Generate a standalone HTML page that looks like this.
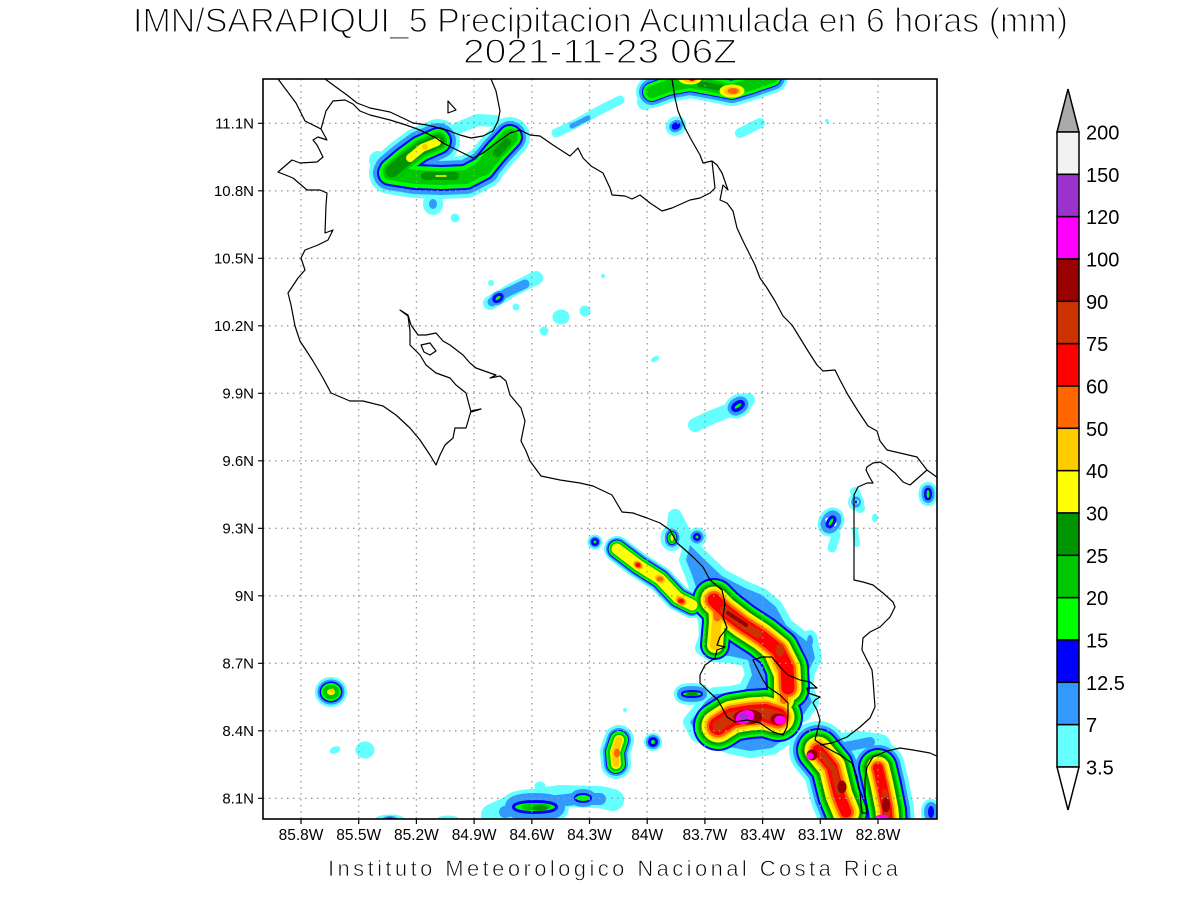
<!DOCTYPE html>
<html><head><meta charset="utf-8"><style>html,body{margin:0;padding:0;background:#fff;}svg{display:block;}</style></head>
<body>
<svg width="1200" height="900" viewBox="0 0 1200 900" xmlns="http://www.w3.org/2000/svg" xmlns:xlink="http://www.w3.org/1999/xlink" font-family="'Liberation Sans', sans-serif">
<rect width="1200" height="900" fill="#fff"/>
<defs>
<clipPath id="clip"><rect x="263" y="79" width="674" height="740"/></clipPath>
<path id="a1" fill="none" d="M392,171 L405,160 L420,149 L438,141"/>
<path id="a2" fill="none" d="M390,173 L415,177 L442,178 L466,177 L483,168"/>
<path id="a3" fill="none" d="M483,168 L496,152 L510,137"/>
<path id="b1" fill="none" d="M652,92 L668,86 L690,82 L712,86 L732,90 L752,84 L772,77"/>
<path id="c1" fill="none" d="M490,303 L512,290 L536,278"/>
<path id="e1" fill="none" d="M695,425 L712,417 L730,410 L748,400"/>
<path id="g2" fill="none" d="M617,549 L638,565 L660,579 L678,598 L692,605"/>
<path id="h1" fill="none" d="M714,600 L724,610 L742,624 L762,637 L778,650 L787,668 L788,688"/>
<path id="h1b" fill="none" d="M716,602 L717,622 L715,645"/>
<path id="h2" fill="none" d="M718,726 L732,717 L750,714 L765,713 L778,717"/>
<path id="h3" fill="none" d="M775,655 L784,675 L784,700"/>
<path id="h5" fill="none" d="M818,750 L832,767 L839,795 L846,812"/>
<path id="h6" fill="none" d="M878,768 L882,785 L887,810 L888,825"/>
<path id="i4" fill="none" d="M619,740 L615,752 L616,764"/>
<path id="hm" d="M690,545 L705,560 L722,576 L745,588 L762,595 L776,607 L786,625 L800,636 L812,645 L815,658 L808,672 L806,688 L812,702 L804,714 L790,722 L786,738 L772,748 L750,751 L730,747 L712,740 L697,735 L690,722 L698,712 L705,702 L715,694 L730,693 L745,690 L752,675 L748,660 L730,656 L712,655 L702,648 L706,636 L705,620 L700,605 L697,590 L692,575 L686,560 Z"/>
<ellipse id="a5" cx="433" cy="204" rx="3" ry="4"/>
<ellipse id="b3" cx="676" cy="126" rx="2.5" ry="1.5" transform="rotate(-30 676 126)"/>
<ellipse id="c2" cx="498" cy="298" rx="3" ry="1.5" transform="rotate(-35 498 298)"/>
<ellipse id="e2" cx="738" cy="406" rx="4" ry="1.5" transform="rotate(-35 738 406)"/>
<ellipse id="f1" cx="831" cy="522" rx="1.5" ry="4" transform="rotate(30 831 522)"/>
<ellipse id="f2" cx="856" cy="502" rx="1" ry="1.5"/>
<ellipse id="f3" cx="928" cy="494" rx="1.5" ry="4"/>
<circle id="g1" cx="595" cy="542" r="1.5"/>
<ellipse id="g4" cx="672" cy="538" rx="1.5" ry="3"/>
<circle id="g5" cx="697" cy="537" r="1.5"/>
<ellipse id="h4" cx="692" cy="694" rx="9" ry="2"/>
<ellipse id="hl" cx="810" cy="641" rx="3" ry="6"/>
<ellipse id="h7" cx="931" cy="812" rx="3" ry="6"/>
<ellipse id="i1" cx="331" cy="692" rx="4" ry="3"/>
<circle id="i5" cx="653" cy="742" r="2"/>
<ellipse id="i6" cx="535" cy="807" rx="20" ry="4"/>
<ellipse id="i7" cx="583" cy="798" rx="7" ry="3"/>
</defs>

<g clip-path="url(#clip)" stroke-linecap="round" stroke-linejoin="round">
<!-- cyan 3.5-7 -->
<g fill="#66ffff" stroke="#66ffff">
<use href="#a1" stroke-width="44"/><use href="#a2" stroke-width="42"/><use href="#a3" stroke-width="40"/>
<path fill="none" stroke-width="18" d="M378,160 L386,183"/>
<path fill="none" stroke-width="12" d="M458,128 L478,120 L495,121"/>
<use href="#a5" stroke-width="14"/>
<circle cx="455" cy="218" r="4"/>
<use href="#b1" stroke-width="32"/>
<path fill="none" stroke-width="16" d="M645,102 L658,88"/>
<use href="#b3" stroke-width="16"/>
<path fill="none" stroke-width="10" d="M740,133 L760,123"/>
<path fill="none" stroke-width="9" d="M556,133 L575,124 L600,110 L620,100"/>
<use href="#c1" stroke-width="14"/>
<circle cx="491" cy="283" r="2.5"/><circle cx="516" cy="307" r="3"/>
<ellipse cx="561" cy="317" rx="8" ry="7"/><circle cx="585" cy="311" r="5"/>
<circle cx="544" cy="331" r="4"/><circle cx="603" cy="276" r="1.5"/>
<ellipse cx="655" cy="359" rx="4" ry="2" transform="rotate(-30 655 359)"/>
<circle cx="827" cy="121" r="1.5"/>
<use href="#e1" stroke-width="14"/><use href="#e2" stroke-width="20"/>
<use href="#f1" stroke-width="22"/>
<path fill="none" stroke-width="9" d="M836,535 L832,548"/>
<use href="#f2" stroke-width="14"/>
<path fill="none" stroke-width="10" d="M855,492 L860,508"/>
<use href="#f3" stroke-width="16"/>
<ellipse cx="875" cy="518" rx="2.5" ry="4"/>
<path fill="none" stroke-width="6" d="M855,530 L857,544"/>
<use href="#g1" stroke-width="12"/><use href="#g2" stroke-width="26"/><use href="#g4" stroke-width="20"/>
<path fill="none" stroke-width="14" d="M675,516 L672,540"/>
<use href="#g5" stroke-width="16"/>
<path fill="none" stroke-width="16" d="M676,520 L690,548"/>
<use href="#hm" stroke-width="14"/>
<use href="#h4" stroke-width="18"/><use href="#hl" stroke-width="10"/>
<use href="#h5" stroke-width="58"/><use href="#h6" stroke-width="54"/>
<path fill="none" stroke-width="22" d="M800,735 L830,745 L860,742 L880,745"/>
<use href="#h7" stroke-width="14"/>
<use href="#i1" stroke-width="24"/>
<ellipse cx="335" cy="750" rx="5" ry="3" transform="rotate(-20 335 750)"/>
<ellipse cx="365" cy="750" rx="9" ry="8"/>
<use href="#i4" stroke-width="30"/><use href="#i5" stroke-width="14"/><use href="#i6" stroke-width="28"/>
<path fill="none" stroke-width="22" d="M492,815 L520,802 L560,796 L600,797 L613,800"/>
<ellipse cx="540" cy="786" rx="5" ry="4"/>
<ellipse cx="390" cy="819" rx="14" ry="4"/><ellipse cx="448" cy="819" rx="10" ry="3"/><ellipse cx="493" cy="819" rx="8" ry="3"/>
<circle cx="625" cy="710" r="1.5"/>
</g>
<!-- light blue 7-12.5 -->
<g fill="#3399ff" stroke="#3399ff">
<use href="#a1" stroke-width="36"/><use href="#a2" stroke-width="34"/><use href="#a3" stroke-width="32"/>
<use href="#a5" stroke-width="2"/>
<use href="#b1" stroke-width="26"/><use href="#b3" stroke-width="9"/>
<path fill="none" stroke-width="5" d="M572,126 L588,118"/>
<path fill="none" stroke-width="9" d="M492,302 L506,293 L525,284"/>
<use href="#c2" stroke-width="10"/><use href="#e2" stroke-width="14"/>
<use href="#f1" stroke-width="16"/><use href="#f2" stroke-width="8"/><use href="#f3" stroke-width="10"/>
<use href="#g1" stroke-width="8"/><use href="#g2" stroke-width="22"/><use href="#g4" stroke-width="12"/><use href="#g5" stroke-width="10"/>
<use href="#hm" stroke-width="0"/>
<use href="#h4" stroke-width="12"/><use href="#hl" stroke-width="0"/>
<use href="#h5" stroke-width="50"/><use href="#h6" stroke-width="46"/>
<path fill="none" stroke-width="10" d="M840,748 L870,742"/>
<use href="#h7" stroke-width="8"/>
<use href="#i1" stroke-width="19"/><use href="#i4" stroke-width="24"/><use href="#i5" stroke-width="10"/><use href="#i6" stroke-width="20"/>
<path fill="none" stroke-width="12" d="M505,812 L540,803 L575,799 L600,799"/>
<use href="#i7" stroke-width="12"/>
<ellipse cx="390" cy="819" rx="7" ry="2.5"/>
</g>
<!-- blue 12.5-15 -->
<g fill="#0000ff" stroke="#0000ff">
<use href="#a1" stroke-width="28"/><use href="#a2" stroke-width="26"/><use href="#a3" stroke-width="26"/>
<use href="#b1" stroke-width="20"/><use href="#b3" stroke-width="4"/>
<use href="#c2" stroke-width="6"/><use href="#e2" stroke-width="7"/>
<use href="#f1" stroke-width="6"/><use href="#f2" stroke-width="0"/><use href="#f3" stroke-width="5"/>
<use href="#g1" stroke-width="5"/><use href="#g2" stroke-width="19"/><use href="#g4" stroke-width="8"/><use href="#g5" stroke-width="5"/>
<use href="#h1" stroke-width="44"/><use href="#h1b" stroke-width="30"/><use href="#h2" stroke-width="50"/><use href="#h3" stroke-width="34"/>
<use href="#h4" stroke-width="4"/><use href="#h5" stroke-width="44"/><use href="#h6" stroke-width="40"/><use href="#h7" stroke-width="0"/>
<use href="#i1" stroke-width="15"/><use href="#i4" stroke-width="20"/><use href="#i5" stroke-width="6"/><use href="#i6" stroke-width="6"/><use href="#i7" stroke-width="4"/>
<ellipse cx="390" cy="819" rx="3" ry="1"/>
</g>
<!-- green 15-20 -->
<g fill="#00ff00" stroke="#00ff00">
<use href="#a1" stroke-width="24"/><use href="#a2" stroke-width="22"/><use href="#a3" stroke-width="22"/>
<use href="#b1" stroke-width="18"/>
<use href="#c2" stroke-width="0"/><use href="#e2" stroke-width="0"/>
<use href="#f1" stroke-width="0"/><use href="#f3" stroke-width="0"/>
<use href="#g1" stroke-width="0"/><use href="#g2" stroke-width="17"/><use href="#g4" stroke-width="6"/><use href="#g5" stroke-width="0"/>
<use href="#h1" stroke-width="40"/><use href="#h1b" stroke-width="26"/><use href="#h2" stroke-width="46"/><use href="#h3" stroke-width="30"/>
<use href="#h4" stroke-width="0"/><use href="#h5" stroke-width="40"/><use href="#h6" stroke-width="36"/>
<use href="#i1" stroke-width="12"/><use href="#i4" stroke-width="18"/><use href="#i5" stroke-width="0"/><use href="#i6" stroke-width="0"/><use href="#i7" stroke-width="0"/>
</g>
<!-- mid green 20-25 -->
<g fill="#00c800" stroke="#00c800">
<use href="#a1" stroke-width="18"/><use href="#a2" stroke-width="14"/><use href="#a3" stroke-width="16"/>
<use href="#b1" stroke-width="12"/>
<use href="#g2" stroke-width="14"/><use href="#g4" stroke-width="4"/>
<use href="#h1" stroke-width="35"/><use href="#h1b" stroke-width="22"/><use href="#h2" stroke-width="41"/><use href="#h3" stroke-width="26"/>
<use href="#h5" stroke-width="35"/><use href="#h6" stroke-width="31"/>
<use href="#i1" stroke-width="8"/><use href="#i4" stroke-width="14"/>
<ellipse cx="536" cy="807" rx="14" ry="3"/>
</g>
<!-- dark green 25-30 -->
<g fill="#009600" stroke="#009600">
<use href="#a1" stroke-width="13"/>
<path fill="none" stroke-width="8" d="M425,176 L455,176"/>
<path fill="none" stroke-width="8" d="M497,153 L507,142"/>
<path fill="none" stroke-width="6" d="M700,84 L722,88"/>
<use href="#h1" stroke-width="31"/><use href="#h1b" stroke-width="20"/><use href="#h2" stroke-width="37"/><use href="#h3" stroke-width="23"/>
<ellipse cx="692" cy="694" rx="5" ry="1.5"/>
<use href="#h5" stroke-width="32"/><use href="#h6" stroke-width="28"/>
<ellipse cx="540" cy="808" rx="7" ry="2.5"/>
</g>
<!-- yellow 30-40 -->
<g fill="#ffff00" stroke="#ffff00">
<path fill="none" stroke-width="8" d="M410,158 L422,148 L437,142"/>
<path fill="none" stroke-width="1.5" d="M436,176 L446,176"/>
<ellipse cx="690" cy="79" rx="11" ry="5"/><ellipse cx="732" cy="91" rx="12" ry="6"/>
<use href="#g2" stroke-width="11"/><use href="#g4" stroke-width="0"/>
<use href="#h1" stroke-width="27"/><use href="#h1b" stroke-width="16"/><use href="#h2" stroke-width="33"/><use href="#h3" stroke-width="20"/>
<use href="#h5" stroke-width="27"/><use href="#h6" stroke-width="23"/>
<use href="#i1" stroke-width="0"/><use href="#i4" stroke-width="10"/>
</g>
<!-- gold 40-50 -->
<g fill="#ffcc00" stroke="#ffcc00">
<circle cx="425" cy="147" r="2.5"/>
<ellipse cx="690" cy="79" rx="7" ry="3"/><ellipse cx="732" cy="91" rx="8" ry="4"/>
<ellipse cx="638" cy="565" rx="5" ry="3.5" transform="rotate(35 638 565)"/>
<ellipse cx="660" cy="579" rx="5" ry="3.5" transform="rotate(35 660 579)"/>
<ellipse cx="681" cy="601" rx="6" ry="4" transform="rotate(30 681 601)"/>
<use href="#h1" stroke-width="22"/><use href="#h1b" stroke-width="10"/><use href="#h2" stroke-width="27"/><use href="#h3" stroke-width="14"/>
<use href="#h5" stroke-width="21"/><use href="#h6" stroke-width="18"/>
<circle cx="332" cy="691" r="2"/><use href="#i4" stroke-width="7"/>
</g>
<!-- orange 50-60 -->
<g fill="#ff6600" stroke="#ff6600">
<ellipse cx="733" cy="91" rx="5" ry="2.5"/>
<ellipse cx="638" cy="565" rx="3.5" ry="2.5" transform="rotate(35 638 565)"/>
<ellipse cx="660" cy="579" rx="3" ry="2"/>
<ellipse cx="681" cy="601" rx="4" ry="3" transform="rotate(30 681 601)"/>
<use href="#h1" stroke-width="18"/>
<path fill="none" stroke-width="7" d="M716,604 L717,618"/>
<use href="#h2" stroke-width="23"/><use href="#h3" stroke-width="8"/>
<use href="#h5" stroke-width="16"/><use href="#h6" stroke-width="14"/>
<ellipse cx="617" cy="753" rx="2.5" ry="4"/>
</g>
<!-- red 60-75 -->
<g fill="#ff0000" stroke="#ff0000">
<ellipse cx="692" cy="79" rx="3" ry="1.5"/>
<ellipse cx="638" cy="565" rx="2" ry="1.5"/>
<ellipse cx="681" cy="601" rx="2.5" ry="1.5"/>
<use href="#h1" stroke-width="13"/><use href="#h2" stroke-width="18"/>
<use href="#h5" stroke-width="11"/><use href="#h6" stroke-width="10"/>
</g>
<!-- red-brown 75-90 -->
<g fill="#cc3300" stroke="#cc3300">
<path fill="none" stroke-width="8" d="M724,610 L742,624 L758,634"/>
<ellipse cx="780" cy="650" rx="4" ry="6"/>
<use href="#h2" stroke-width="11"/>
<path fill="none" stroke-width="6" d="M822,755 L834,770 L839,792"/>
<path fill="none" stroke-width="6" d="M885,792 L887,815"/>
</g>
<!-- dark red 90-100 -->
<g fill="#990000" stroke="#990000">
<path fill="none" stroke-width="4" d="M728,613 L746,625"/>
<ellipse cx="748" cy="717" rx="14" ry="7"/><ellipse cx="778" cy="719" rx="7" ry="5"/>
<ellipse cx="842" cy="787" rx="4" ry="6"/><circle cx="812" cy="755" r="5"/>
<ellipse cx="886" cy="805" rx="3.5" ry="7"/>
</g>
<!-- magenta 100-120 -->
<g fill="#ff00ff" stroke="#ff00ff">
<ellipse cx="745" cy="717" rx="9" ry="6" transform="rotate(-20 745 717)"/>
<ellipse cx="780" cy="720" rx="5" ry="4"/>
<circle cx="810" cy="756" r="3"/>
<ellipse cx="882" cy="818" rx="6" ry="3"/>
</g>
<g fill="#9933cc"><ellipse cx="744" cy="716" rx="4.5" ry="3"/></g>
</g>

<!-- grid -->
<g stroke="#9a9a9a" stroke-width="1.3" stroke-dasharray="1.5 4.5" fill="none">
<path d="M301,79V819 M358.7,79V819 M416.4,79V819 M474.1,79V819 M531.8,79V819 M589.5,79V819 M647.2,79V819 M704.9,79V819 M762.6,79V819 M820.3,79V819 M878,79V819"/>
<path d="M263,123.3H937 M263,190.8H937 M263,258.3H937 M263,325.8H937 M263,393.3H937 M263,460.8H937 M263,528.3H937 M263,595.8H937 M263,663.3H937 M263,730.8H937 M263,798.3H937"/>
</g>

<!-- coastlines -->
<g clip-path="url(#clip)" fill="none" stroke="#000" stroke-width="1.2" stroke-linejoin="round">
<path d="M325,79 L340,90 L347,95 L357,103 L370,108 L390,112 L407,120 L413,123 L427,125 L447,130 L460,135 L471,138 L483,136 L493,131 L498,121 L500,111 L496,91 L491,79"/>
<path d="M321,129 L326,111 L333,101 L345,100 L353,104 L360,111 L370,115 L390,120 L406,125 L420,130 L436,138 L443,143 L463,153 L473,158 L483,153 L496,143 L510,133 L520,130 L530,135 L540,136 L553,145 L570,156 L578,148 L583,158 L591,166 L603,173 L610,188 L612,195 L625,196 L632,199 L640,195 L650,203 L662,211 L672,208 L690,200 L700,198 L710,193 L715,188 L712,161"/>
<path d="M672,79 L675,98 L678,111 L685,128 L692,141 L700,155 L703,163 L712,161 L717,165 L722,173 L728,190 L723,185 L720,200 L727,203 L733,211 L737,228 L743,241 L748,251 L755,265 L760,278 L767,288 L775,301 L783,316 L792,325 L800,338 L808,351 L817,365 L823,371 L835,370 L840,380 L848,395 L858,411 L868,426 L877,431 L880,441 L887,450 L900,453 L917,457 L927,470 L938,478"/>
<path d="M278,79 L296,103 L305,121 L321,129 L327,140 L318,137 L313,140 L317,145 L323,157 L317,162 L300,163 L292,160 L278,172 L293,178 L307,190 L320,190 L327,193 L326,205 L325,233 L333,230 L328,240 L318,245 L305,250 L301,258 L305,270 L298,278 L288,293 L291,305 L295,326 L300,341 L313,361 L323,378 L331,393 L350,401 L363,401 L383,406 L396,415 L410,428 L420,440 L430,455 L436,465 L440,455 L445,445 L453,438 L455,428 L466,428 L471,411 L481,409 L471,412 L466,393 L456,385 L450,378 L436,373 L426,365 L420,355 L410,345 L410,331 L408,316 L400,310 L408,315 L411,325 L418,335 L426,335 L436,333 L443,341 L450,345 L463,355 L470,363 L476,368 L490,373 L496,375 L490,378 L500,376 L506,381 L510,395 L521,408 L525,421 L523,431 L521,441 L526,451 L530,461 L541,476 L560,480 L580,483 L593,486 L612,495 L622,512 L633,513 L647,518 L660,523 L670,530 L677,543 L683,548 L693,557 L703,567 L710,580 L722,590 L725,603 L723,617 L727,628 L720,637 L717,645 L725,647 L717,650 L715,658 L705,665 L700,675 L700,683 L707,690 L718,700 L727,717 L735,722 L747,720 L760,723 L773,732 L783,735 L787,727 L788,713 L788,703 L780,695 L768,687 L763,680 L758,670 L753,660 L762,657 L772,657 L780,667 L788,675 L800,680 L810,682 L817,688 L807,688 L808,693 L820,697 L815,700 L813,703 L817,710 L820,720 L817,732 L815,740 L827,748 L840,755 L852,763 L857,777 L860,793 L862,813 L867,813 L865,797 L865,780 L867,767 L873,757 L887,751 L900,748 L913,750 L930,753 L939,757"/>
<path d="M820,745 L832,743 L847,737 L860,727 L870,718 L875,707 L873,680 L872,670 L867,660 L862,650 L863,638 L870,632 L880,627 L890,617 L895,607 L893,602 L883,593 L873,585 L863,582 L854,580 L854,495 L858,487 L867,483 L873,483 L870,478 L866,470 L867,467 L873,463 L880,462 L885,465 L895,473 L903,482 L910,485 L918,478 L927,470"/>
<path d="M421,345 L430,343 L436,351 L430,355 L424,352 Z"/>
<path d="M448,101 L456,110 L448,113 Z"/>
</g>

<!-- frame and ticks -->
<rect x="263" y="79" width="674" height="740" fill="none" stroke="#000" stroke-width="1.6"/>
<g stroke="#000" stroke-width="1.2">
<path d="M258,123.3H263 M258,190.8H263 M258,258.3H263 M258,325.8H263 M258,393.3H263 M258,460.8H263 M258,528.3H263 M258,595.8H263 M258,663.3H263 M258,730.8H263 M258,798.3H263"/>
<path d="M301,819V824 M358.7,819V824 M416.4,819V824 M474.1,819V824 M531.8,819V824 M589.5,819V824 M647.2,819V824 M704.9,819V824 M762.6,819V824 M820.3,819V824 M878,819V824"/>
</g>

<g font-size="15" fill="#000" text-anchor="end">
<text x="254" y="128.3">11.1N</text>
<text x="254" y="195.8">10.8N</text>
<text x="254" y="263.3">10.5N</text>
<text x="254" y="330.8">10.2N</text>
<text x="254" y="398.3">9.9N</text>
<text x="254" y="465.8">9.6N</text>
<text x="254" y="533.3">9.3N</text>
<text x="254" y="600.8">9N</text>
<text x="254" y="668.3">8.7N</text>
<text x="254" y="735.8">8.4N</text>
<text x="254" y="803.3">8.1N</text>
</g>
<g font-size="15.5" fill="#000" text-anchor="middle">
<text x="301" y="840">85.8W</text>
<text x="358.7" y="840">85.5W</text>
<text x="416.4" y="840">85.2W</text>
<text x="474.1" y="840">84.9W</text>
<text x="531.8" y="840">84.6W</text>
<text x="589.5" y="840">84.3W</text>
<text x="647.2" y="840">84W</text>
<text x="704.9" y="840">83.7W</text>
<text x="762.6" y="840">83.4W</text>
<text x="820.3" y="840">83.1W</text>
<text x="878" y="840">82.8W</text>
</g>

<!-- titles (thinned with white outline to mimic stroke font) -->
<g fill="#000" stroke="#fff" stroke-width="1.3">
<text x="133" y="32" font-size="34" textLength="935" lengthAdjust="spacingAndGlyphs">IMN/SARAPIQUI_5 Precipitacion Acumulada en 6 horas (mm)</text>
<text x="463" y="63" font-size="34" textLength="274" lengthAdjust="spacingAndGlyphs">2021-11-23 06Z</text>
</g>
<text x="328" y="876" font-size="22" textLength="570" lengthAdjust="spacing" fill="#000" stroke="#fff" stroke-width="0.7">Instituto Meteorologico Nacional Costa Rica</text>

<!-- colorbar -->
<g stroke="#000" stroke-width="1.5">
<polygon points="1068,89 1079,132 1057,132" fill="#aaaaaa"/>
<rect x="1057" y="132" width="22" height="42.33" fill="#f2f2f2"/>
<rect x="1057" y="174.33" width="22" height="42.33" fill="#9933cc"/>
<rect x="1057" y="216.67" width="22" height="42.33" fill="#ff00ff"/>
<rect x="1057" y="259" width="22" height="42.33" fill="#990000"/>
<rect x="1057" y="301.33" width="22" height="42.33" fill="#cc3300"/>
<rect x="1057" y="343.67" width="22" height="42.33" fill="#ff0000"/>
<rect x="1057" y="386" width="22" height="42.33" fill="#ff6600"/>
<rect x="1057" y="428.33" width="22" height="42.33" fill="#ffcc00"/>
<rect x="1057" y="470.67" width="22" height="42.33" fill="#ffff00"/>
<rect x="1057" y="513" width="22" height="42.33" fill="#009600"/>
<rect x="1057" y="555.33" width="22" height="42.33" fill="#00c800"/>
<rect x="1057" y="597.67" width="22" height="42.33" fill="#00ff00"/>
<rect x="1057" y="640" width="22" height="42.33" fill="#0000ff"/>
<rect x="1057" y="682.33" width="22" height="42.33" fill="#3399ff"/>
<rect x="1057" y="724.67" width="22" height="42.33" fill="#66ffff"/>
<polygon points="1057,767 1079,767 1068,810" fill="#ffffff"/>
</g>
<g font-size="20" fill="#000">
<text x="1086" y="139.5">200</text>
<text x="1086" y="181.8">150</text>
<text x="1086" y="224.2">120</text>
<text x="1086" y="266.5">100</text>
<text x="1086" y="308.8">90</text>
<text x="1086" y="351.2">75</text>
<text x="1086" y="393.5">60</text>
<text x="1086" y="435.8">50</text>
<text x="1086" y="478.2">40</text>
<text x="1086" y="520.5">30</text>
<text x="1086" y="562.8">25</text>
<text x="1086" y="605.2">20</text>
<text x="1086" y="647.5">15</text>
<text x="1086" y="689.8">12.5</text>
<text x="1086" y="732.2">7</text>
<text x="1086" y="774.5">3.5</text>
</g>
</svg>
</body></html>
